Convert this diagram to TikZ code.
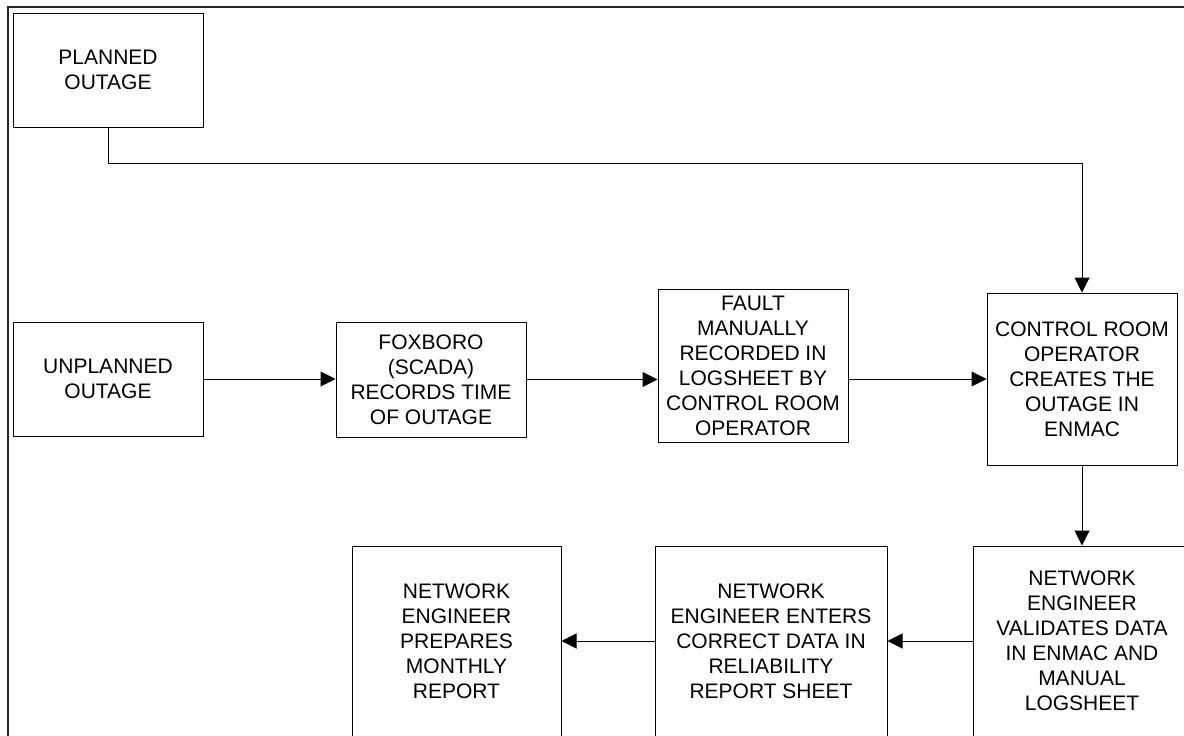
\documentclass[tikz,border=0pt]{standalone}
\usepackage{fontspec}
\setmainfont{Liberation Sans}
\usetikzlibrary{arrows.meta}
\begin{document}
\begin{tikzpicture}[x=1pt,y=-1pt,
  box/.style={draw=black, line width=1pt, fill=white, align=center, inner sep=0pt,
    font=\fontsize{21}{25}\selectfont},
  arr/.style={line width=1pt, -{Triangle[length=15pt,width=15pt]}}]
\useasboundingbox (0,0) rectangle (1184,736);
\clip (0,0) rectangle (1184,736);
\fill[white] (0,0) rectangle (1184,736);
\draw[line width=1.6pt, black!85] (8,7) rectangle (1210,760);
\node[box, minimum width=190pt, minimum height=114pt] (P) at (108,70) {PLANNED\\OUTAGE};
\node[box, minimum width=190pt, minimum height=114pt] (U) at (108,379) {UNPLANNED\\OUTAGE};
\node[box, minimum width=190pt, minimum height=115pt] (F) at (431,379.5) {FOXBORO\\(SCADA)\\RECORDS TIME\\OF OUTAGE};
\node[box, minimum width=190pt, minimum height=153pt] (M) at (753,366) {FAULT\\MANUALLY\\RECORDED IN\\LOGSHEET BY\\CONTROL ROOM\\OPERATOR};
\node[box, minimum width=190pt, minimum height=172pt] (C) at (1082,379) {CONTROL ROOM\\OPERATOR\\CREATES THE\\OUTAGE IN\\ENMAC};
\node[box, minimum width=218pt, minimum height=190pt] (V) at (1082,641) {NETWORK\\ENGINEER\\VALIDATES DATA\\IN ENMAC AND\\MANUAL\\LOGSHEET};
\node[box, minimum width=232pt, minimum height=190pt] (E) at (771,641) {NETWORK\\ENGINEER ENTERS\\CORRECT DATA IN\\RELIABILITY\\REPORT SHEET};
\node[box, minimum width=209pt, minimum height=190pt] (R) at (456.5,641) {NETWORK\\ENGINEER\\PREPARES\\MONTHLY\\REPORT};
\coordinate (bend) at (108,163);
\draw[arr] (P.south) -- (bend) -| (C.north);
\draw[arr] (U.east) -- (U.east -| F.west);
\draw[arr] (F.east) -- (F.east -| M.west);
\draw[arr] (C.west -| M.east) -- (C.west);
\draw[arr] (C.south) -- (V.north);
\draw[arr] (V.west) -- (E.east);
\draw[arr] (E.west) -- (R.east);
\end{tikzpicture}
\end{document}
